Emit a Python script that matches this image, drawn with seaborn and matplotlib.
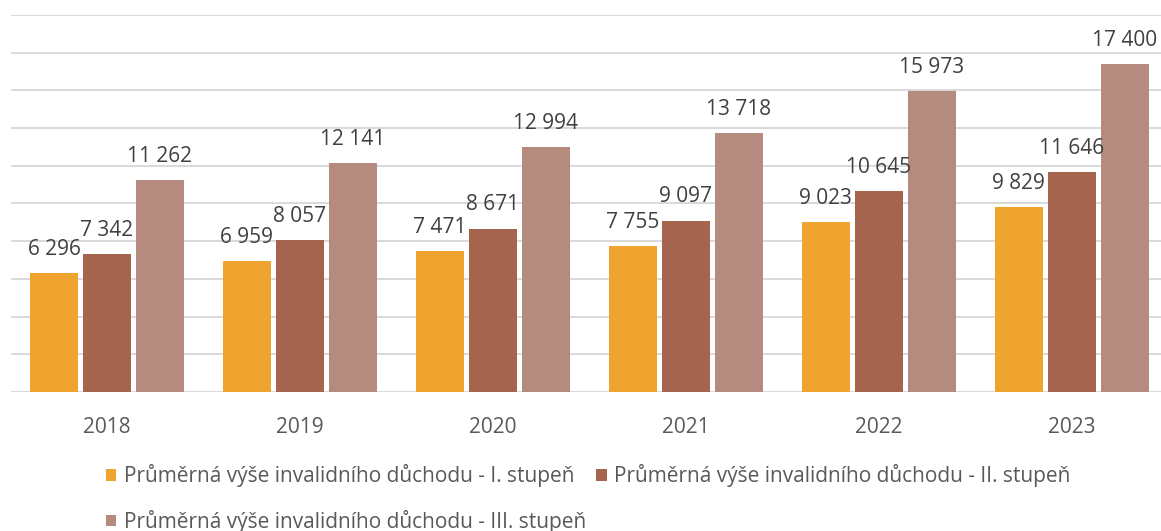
import matplotlib
matplotlib.use("Agg")
import matplotlib.pyplot as plt
import seaborn as sns
import pandas as pd
from matplotlib.patches import Rectangle

years = ["2018", "2019", "2020", "2021", "2022", "2023"]
series_names = [
    "Průměrná výše invalidního důchodu - I. stupeň",
    "Průměrná výše invalidního důchodu - II. stupeň",
    "Průměrná výše invalidního důchodu - III. stupeň",
]
stupen_1 = [6296, 6959, 7471, 7755, 9023, 9829]
stupen_2 = [7342, 8057, 8671, 9097, 10645, 11646]
stupen_3 = [11262, 12141, 12994, 13718, 15973, 17400]
colors = ["#EFA430", "#A5644E", "#B58A7F"]

rows = []
for name, vals in zip(series_names, [stupen_1, stupen_2, stupen_3]):
    for y, v in zip(years, vals):
        rows.append({"year": y, "series": name, "value": v})
df = pd.DataFrame(rows)

sns.set_theme(style="white")
plt.rcParams["font.family"] = ["Open Sans", "DejaVu Sans"]

W, H = 1161, 531
fig = plt.figure(figsize=(W / 100, H / 100), dpi=100)
ax = fig.add_axes([10.5 / W, (H - 392) / H, (W - 10.5) / W, (392 - 15) / H])

sns.barplot(data=df, x="year", y="value", hue="series", palette=colors,
            saturation=1, width=0.824, gap=0.094, linewidth=0, ax=ax,
            legend=False, errorbar=None, zorder=3)

ax.set_xlim(-0.5, (W - 10.5) / 192.94 - 0.5)
ax.set_ylim(0, 20000)
ax.set_yticks(range(0, 20001, 2000))
ax.yaxis.grid(True, color="#D9D9D9", linewidth=1.4, zorder=0)
ax.xaxis.grid(False)
ax.set_axisbelow(True)
for s in ax.spines.values():
    s.set_visible(False)
ax.tick_params(axis="y", left=False, labelleft=False)
ax.tick_params(axis="x", length=0, pad=18, labelsize=15, labelcolor="#595959")
ax.set_xlabel("")
ax.set_ylabel("")

for cont in ax.containers:
    for bar in cont:
        h = bar.get_height()
        ax.annotate(f"{int(round(h)):,}".replace(",", " "),
                    (bar.get_x() + bar.get_width() / 2, h),
                    xytext=(0, 13), textcoords="offset points",
                    ha="center", va="baseline", fontsize=15, color="#404040",
                    annotation_clip=False)

handles = [Rectangle((0, 0), 1, 1, facecolor=c, edgecolor="none") for c in colors]
order = [0, 2, 1]
fig.legend([handles[i] for i in order], [series_names[i] for i in order],
           ncol=2, loc="upper left", bbox_to_anchor=(106 / W, 1 - 464 / H),
           frameon=False, fontsize=15, labelcolor="#595959",
           handlelength=0.5, handleheight=0.5, handletextpad=0.35,
           columnspacing=0.5, labelspacing=1.1, borderpad=0, borderaxespad=0)

fig.savefig("out.png", dpi=100)
